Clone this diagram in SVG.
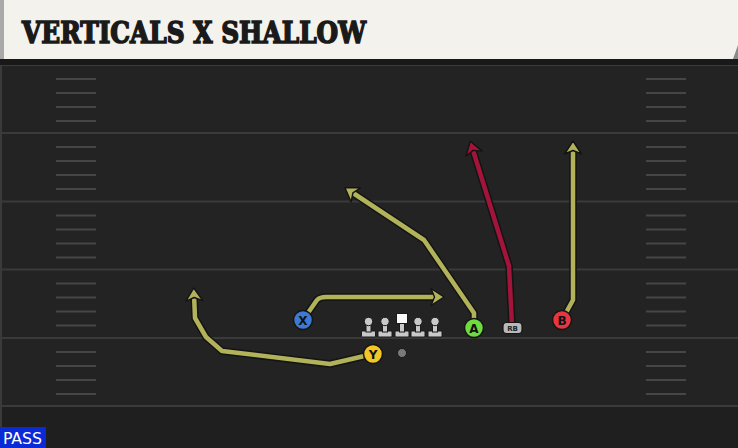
<svg xmlns="http://www.w3.org/2000/svg" width="738" height="448" viewBox="0 0 738 448">
<style>
.yl{stroke:#3a3a3a;stroke-width:2}
.hm{stroke:#464646;stroke-width:2}
.out{fill:none;stroke:#141414;stroke-width:7.5;stroke-linejoin:round;stroke-linecap:round}
.ry{fill:none;stroke:#b2b25a;stroke-width:4.5;stroke-linejoin:round}
.rr{fill:none;stroke:#a3143a;stroke-width:4.5;stroke-linejoin:round}
.pl{stroke:#151515;stroke-width:1.5}
.lt{font-family:"DejaVu Sans",sans-serif;font-weight:bold;font-size:12px;fill:#111;text-anchor:middle}
.ol{fill:#c9c9c9;stroke:#1a1a1a;stroke-width:1}
</style>
<defs>
<marker id="ahY" markerUnits="userSpaceOnUse" viewBox="-12 -12 24 24" markerWidth="24" markerHeight="24" refX="0" refY="0" orient="auto">
<path d="M-7,-8.5 L6,0 L-7,8.5 L-3.5,0 Z" fill="#b2b25a" stroke="#141414" stroke-width="1.4" stroke-linejoin="round"/>
</marker>
<marker id="ahR" markerUnits="userSpaceOnUse" viewBox="-12 -12 24 24" markerWidth="24" markerHeight="24" refX="0" refY="0" orient="auto">
<path d="M-7,-8.5 L6,0 L-7,8.5 L-3.5,0 Z" fill="#a3143a" stroke="#141414" stroke-width="1.4" stroke-linejoin="round"/>
</marker>
<g id="hashset">
<line class="hm" x1="0" y1="14" x2="40" y2="14"/>
<line class="hm" x1="0" y1="28" x2="40" y2="28"/>
<line class="hm" x1="0" y1="42" x2="40" y2="42"/>
<line class="hm" x1="0" y1="56" x2="40" y2="56"/>
</g>
</defs>

<g id="field">
<rect x="0" y="0" width="738" height="448" fill="#232323"/>
<rect x="0" y="406" width="738" height="42" fill="#1f1f1f"/>
<line x1="1" y1="60" x2="1" y2="448" stroke="#3a3a3a" stroke-width="2"/>
<line class="yl" x1="0" y1="65" x2="738" y2="65"/>
<line class="yl" x1="0" y1="133" x2="738" y2="133"/>
<line class="yl" x1="0" y1="201.5" x2="738" y2="201.5"/>
<line class="yl" x1="0" y1="269.5" x2="738" y2="269.5"/>
<line class="yl" x1="0" y1="338" x2="738" y2="338"/>
<line class="yl" x1="0" y1="406" x2="738" y2="406"/>
<use href="#hashset" x="56" y="65"/>
<use href="#hashset" x="56" y="133"/>
<use href="#hashset" x="56" y="201.5"/>
<use href="#hashset" x="56" y="269.5"/>
<use href="#hashset" x="56" y="338"/>
<use href="#hashset" x="646" y="65"/>
<use href="#hashset" x="646" y="133"/>
<use href="#hashset" x="646" y="201.5"/>
<use href="#hashset" x="646" y="269.5"/>
<use href="#hashset" x="646" y="338"/>
</g>

<g id="header">
<rect x="0" y="59" width="738" height="6" fill="#191919"/>
<rect x="0" y="0" width="738" height="59" fill="#f4f2ec"/>
<rect x="0" y="0" width="4" height="59" fill="#a9a9a9"/>
<polygon points="738,45 738,59 733,59" fill="#8a8a8a"/>
<text x="22" y="43" font-family="'DejaVu Serif',serif" font-weight="bold" font-size="29" textLength="344" lengthAdjust="spacingAndGlyphs" fill="#1a1a1a" stroke="#1a1a1a" stroke-width="1.6" stroke-linejoin="miter">VERTICALS X SHALLOW</text>
</g>

<g id="connectors">
<path class="out" d="M303,320 L317,300 Q320,297 326,297 L438,297"/>
<path class="ry" d="M303,320 L317,300 Q320,297 326,297 L438,297" marker-end="url(#ahY)"/>
<path class="out" d="M373,354 L330,364 L222,351 L206,337 L195,318 L194,294"/>
<path class="ry" d="M373,354 L330,364 L222,351 L206,337 L195,318 L194,294" marker-end="url(#ahY)"/>
<path class="out" d="M474,328 L474,313 L424,240 L350,191"/>
<path class="ry" d="M474,328 L474,313 L424,240 L350,191" marker-end="url(#ahY)"/>
<path class="out" d="M512,326 L509,266 L472,147"/>
<path class="rr" d="M512,326 L509,266 L472,147" marker-end="url(#ahR)"/>
<path class="out" d="M562,320 L573,300 L573,147"/>
<path class="ry" d="M562,320 L573,300 L573,147" marker-end="url(#ahY)"/>
</g>

<g id="line">
<g id="lt1"><rect class="ol" x="361.5" y="331" width="14" height="6" rx="1"/><rect class="ol" x="366" y="322" width="5" height="10"/><circle class="ol" cx="368.5" cy="321.5" r="4.2"/></g>
<g id="lt2"><rect class="ol" x="378" y="331" width="14" height="6" rx="1"/><rect class="ol" x="382.5" y="322" width="5" height="10"/><circle class="ol" cx="385" cy="321.5" r="4.2"/></g>
<g id="center"><rect class="ol" x="395" y="331" width="14" height="6" rx="1"/><rect class="ol" x="399.5" y="322" width="5" height="10"/><rect x="396.5" y="313.5" width="11" height="10" fill="#fafafa" stroke="#1a1a1a" stroke-width="1"/></g>
<g id="rt2"><rect class="ol" x="411" y="331" width="14" height="6" rx="1"/><rect class="ol" x="415.5" y="322" width="5" height="10"/><circle class="ol" cx="418" cy="321.5" r="4.2"/></g>
<g id="rt1"><rect class="ol" x="428" y="331" width="14" height="6" rx="1"/><rect class="ol" x="432.5" y="322" width="5" height="10"/><circle class="ol" cx="435" cy="321.5" r="4.2"/></g>
</g>

<g id="qb"><circle cx="402" cy="353" r="4.5" fill="#7a7a7a" stroke="#1a1a1a" stroke-width="1"/></g>

<g id="X"><circle class="pl" cx="303" cy="320" r="9.5" fill="#3c7ad6"/><text class="lt" x="303" y="324.5">X</text></g>
<g id="Y"><circle class="pl" cx="373" cy="354" r="9.5" fill="#f2c624"/><text class="lt" x="373" y="358.5">Y</text></g>
<g id="A"><circle class="pl" cx="474" cy="328" r="9.5" fill="#6edb3e"/><text class="lt" x="474" y="332.5">A</text></g>
<g id="B"><circle class="pl" cx="562" cy="320" r="9.5" fill="#e63642"/><text class="lt" x="562" y="324.5">B</text></g>
<g id="RB"><rect x="503" y="322.5" width="19" height="11" rx="3.5" fill="#b9b9b9" stroke="#151515" stroke-width="1.2"/><text x="512.5" y="331" font-family="'DejaVu Sans',sans-serif" font-weight="bold" font-size="7" fill="#222" text-anchor="middle">RB</text></g>

<g id="pass">
<rect x="0" y="427" width="46" height="21" fill="#0a2ad8"/>
<text x="3" y="444" font-family="'DejaVu Sans Condensed','DejaVu Sans',sans-serif" font-size="15.5" textLength="39" lengthAdjust="spacingAndGlyphs" fill="#ffffff">PASS</text>
</g>
</svg>
